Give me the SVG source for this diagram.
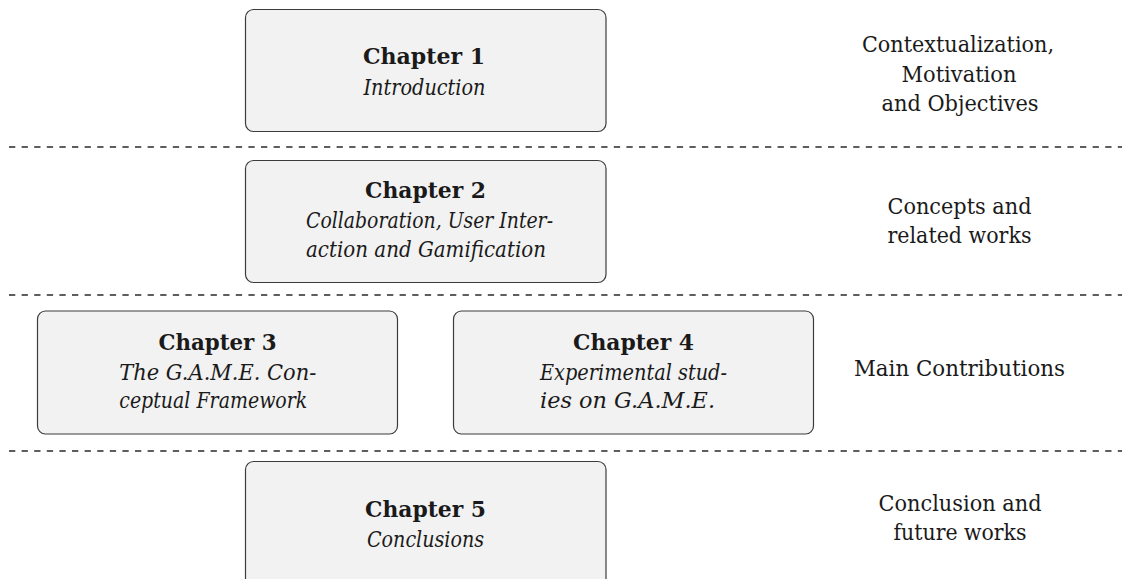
<svg xmlns="http://www.w3.org/2000/svg" width="1129" height="579" viewBox="0 0 1129 579">
<style>
.box{fill:#f2f2f2;stroke:#3c3c3c;stroke-width:1.2}
.sep{stroke:#2a2a2a;stroke-width:1.3;stroke-dasharray:6.3 6.3;fill:none}
.tx{font-family:'DejaVu Serif','Liberation Serif',serif;font-size:22px;fill:#1a1a1a}
.t{font-weight:bold;text-anchor:middle}
.i{font-style:italic}
.c{text-anchor:middle}
</style>
<rect width="1129" height="579" fill="#ffffff"/>
<g id="separators">
<line class="sep" x1="9" y1="147" x2="1122" y2="147"/>
<line class="sep" x1="9" y1="295" x2="1122" y2="295"/>
<line class="sep" x1="9" y1="451" x2="1122" y2="451"/>
</g>
<g id="chapter1">
<rect class="box" x="245.5" y="9.5" width="360.5" height="122" rx="8"/>
<text class="tx t" x="424" y="64" textLength="122" lengthAdjust="spacingAndGlyphs">Chapter 1</text>
<text class="tx i c" x="424.5" y="95" textLength="122" lengthAdjust="spacingAndGlyphs">Introduction</text>
</g>
<g id="chapter2">
<rect class="box" x="245.5" y="160.5" width="360.5" height="122" rx="8"/>
<text class="tx t" x="425.5" y="198" textLength="121" lengthAdjust="spacingAndGlyphs">Chapter 2</text>
<text class="tx i" x="306" y="227.5" textLength="247" lengthAdjust="spacingAndGlyphs">Collaboration, User Inter-</text>
<text class="tx i" x="306" y="257" textLength="240" lengthAdjust="spacingAndGlyphs">action and Gamification</text>
</g>
<g id="chapter3">
<rect class="box" x="37.5" y="311" width="360" height="123" rx="8"/>
<text class="tx t" x="217.5" y="349.5" textLength="118" lengthAdjust="spacingAndGlyphs">Chapter 3</text>
<text class="tx i" x="119.3" y="379.5" textLength="197" lengthAdjust="spacingAndGlyphs">The G.A.M.E. Con-</text>
<text class="tx i" x="119.3" y="408" textLength="188" lengthAdjust="spacingAndGlyphs">ceptual Framework</text>
</g>
<g id="chapter4">
<rect class="box" x="453.5" y="311" width="360" height="123" rx="8"/>
<text class="tx t" x="633.5" y="349.5" textLength="121" lengthAdjust="spacingAndGlyphs">Chapter 4</text>
<text class="tx i" x="540" y="379.5" textLength="187" lengthAdjust="spacingAndGlyphs">Experimental stud-</text>
<text class="tx i" x="540" y="408" textLength="175" lengthAdjust="spacingAndGlyphs">ies on G.A.M.E.</text>
</g>
<g id="chapter5">
<rect class="box" x="245.5" y="461.5" width="360.5" height="130" rx="8"/>
<text class="tx t" x="425.5" y="517" textLength="121" lengthAdjust="spacingAndGlyphs">Chapter 5</text>
<text class="tx i c" x="425.5" y="547" textLength="117" lengthAdjust="spacingAndGlyphs">Conclusions</text>
</g>
<g id="labels">
<text class="tx c" x="958" y="52" textLength="192" lengthAdjust="spacingAndGlyphs">Contextualization,</text>
<text class="tx c" x="959" y="81.5" textLength="115" lengthAdjust="spacingAndGlyphs">Motivation</text>
<text class="tx c" x="960" y="111" textLength="157" lengthAdjust="spacingAndGlyphs">and Objectives</text>
<text class="tx c" x="959.5" y="213.5" textLength="144" lengthAdjust="spacingAndGlyphs">Concepts and</text>
<text class="tx c" x="959.5" y="243" textLength="144" lengthAdjust="spacingAndGlyphs">related works</text>
<text class="tx c" x="959.5" y="376" textLength="211" lengthAdjust="spacingAndGlyphs">Main Contributions</text>
<text class="tx c" x="960" y="511" textLength="163" lengthAdjust="spacingAndGlyphs">Conclusion and</text>
<text class="tx c" x="960" y="540" textLength="133" lengthAdjust="spacingAndGlyphs">future works</text>
</g>
</svg>
